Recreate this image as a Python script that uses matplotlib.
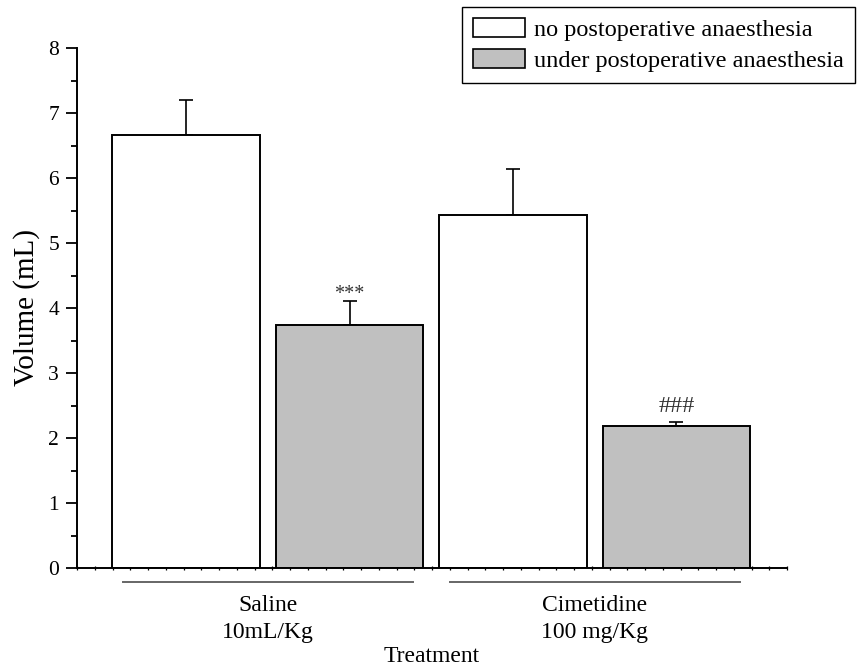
import matplotlib
matplotlib.use("Agg")
import matplotlib.pyplot as plt
import numpy as np
from matplotlib.ticker import FixedLocator, MultipleLocator
from matplotlib.patches import Patch
import matplotlib.transforms as mtransforms

plt.rcParams['font.family'] = ['Liberation Serif', 'DejaVu Serif']

# ---- data ----
groups = ["Saline", "Cimetidine"]
doses = ["10mL/Kg", "100 mg/Kg"]
series_names = ["no postoperative anaesthesia", "under postoperative anaesthesia"]
no_anaes = [6.66, 5.43]
no_anaes_err = [0.54, 0.71]
under_anaes = [3.74, 2.19]
under_anaes_err = [0.37, 0.06]
marks = ["***", "###"]
mark_sizes = [14.5, 17.5]
mark_offsets = [-2, 3.5]
y_label = "Volume (mL)"
x_label = "Treatment"

fig = plt.figure(figsize=(8.58, 6.66), dpi=100)
ax = fig.add_axes([77/858, 1-568/666, 710/858, 520/666])

n = len(groups)
pos_no = np.arange(n) * 2
pos_under = pos_no + 1
width = 0.905
ew = 1.4

ax.bar(pos_no, no_anaes, width=width, color="white", edgecolor="black", linewidth=ew, zorder=2)
ax.bar(pos_under, under_anaes, width=width, color="#c0c0c0", edgecolor="black", linewidth=ew, zorder=2)
ax.errorbar(pos_no, no_anaes, yerr=[np.zeros(n), no_anaes_err], fmt="none", ecolor="black",
            elinewidth=1.2, capsize=5, capthick=1.2, zorder=1)
ax.errorbar(pos_under, under_anaes, yerr=[np.zeros(n), under_anaes_err], fmt="none", ecolor="black",
            elinewidth=1.2, capsize=5, capthick=1.2, zorder=1)

for i in range(n):
    top = under_anaes[i] + under_anaes_err[i]
    ax.annotate(marks[i], (pos_under[i], top), xytext=(0, mark_offsets[i]), textcoords="offset points",
                ha="center", va="bottom", fontsize=mark_sizes[i], color="#333333")

x0, x1 = -0.667, 3.676
ax.set_xlim(x0, x1)
ax.set_ylim(0, 8)

for s in ["top", "right"]:
    ax.spines[s].set_visible(False)
for s in ["left", "bottom"]:
    ax.spines[s].set_linewidth(1.4)

ax.yaxis.set_major_locator(MultipleLocator(1))
ax.yaxis.set_minor_locator(MultipleLocator(0.5))
ax.tick_params(axis="y", which="major", direction="out", length=8, width=1.3, labelsize=15.5, pad=5)
ax.tick_params(axis="y", which="minor", direction="out", length=4.3, width=1.3)

ax.xaxis.set_major_locator(FixedLocator([]))
ax.xaxis.set_minor_locator(FixedLocator(np.linspace(x0, x1, 41)))
ax.tick_params(axis="x", which="minor", direction="inout", length=3.5, width=0.9)

ax.set_ylabel(y_label, fontsize=21, labelpad=6)

trans = mtransforms.blended_transform_factory(ax.transData, ax.transAxes)
for i in range(n):
    c = pos_no[i] + 0.5
    ax.plot([c - 0.887, c + 0.887], [-0.026, -0.026], transform=trans, color="#666666",
            linewidth=1.4, clip_on=False)
    ax.text(c, -0.072, groups[i], transform=trans, ha="center", va="center", fontsize=17)
    ax.text(c, -0.124, doses[i], transform=trans, ha="center", va="center", fontsize=17)

ax.text(0.5, -0.170, x_label, transform=ax.transAxes, ha="center", va="center", fontsize=17)

handles = [Patch(facecolor="white", edgecolor="black", linewidth=1.2),
           Patch(facecolor="#c0c0c0", edgecolor="black", linewidth=1.2)]
leg = fig.legend(handles, series_names, loc="upper right", bbox_to_anchor=(855/858, 1-7/666),
                 fontsize=17.5, frameon=True, fancybox=False, edgecolor="black", framealpha=1,
                 handlelength=2.14, handleheight=0.82, handletextpad=0.37, labelspacing=0.33,
                 borderpad=0.45, borderaxespad=0)
leg.get_frame().set_linewidth(1.0)

fig.savefig("out.png", dpi=100)
